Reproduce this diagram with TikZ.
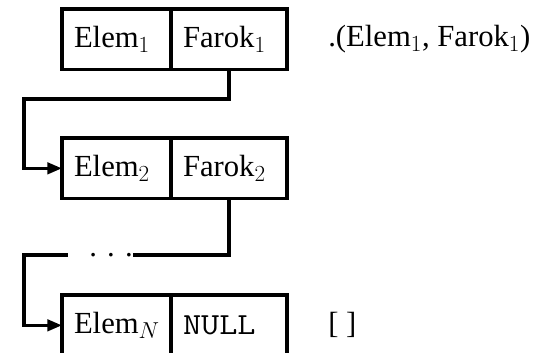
\documentclass[tikz,border=0pt]{standalone}
\usepackage{fontspec}
\setmainfont{Liberation Serif}
\usepackage{graphicx}
\usetikzlibrary{positioning, arrows.meta}

\newcommand{\nullptr}{\scalebox{1.15}[1]{\texttt{NULL}}}

\tikzset{
  elembox/.style={draw, line width=2.5pt, outer sep=0pt, inner xsep=9pt, inner ysep=0pt,
    minimum height=45.5pt, text width=63.75pt, align=left, anchor=north west},
  farokbox/.style={elembox, text width=69pt, anchor=west},
  wire/.style={line width=2.5pt},
  link/.style={wire, -{Triangle[length=11pt,width=8.5pt]}},
}

\begin{document}
\begin{tikzpicture}[x=0.75pt,y=0.75pt,yscale=-1,xscale=1,font=\fontsize{23}{28}\selectfont]
\clip (0,0) rectangle (553,353); %diagram is 553 wide and 353 high

% Text Node
\node (elemA) [elembox] at (62,9) {Elem$_1$};
\node (farokA) [farokbox, right=0pt of elemA] {Farok$_1$};
\node (pairA) [inner sep=0pt, right=30.75pt of farokA] {.(Elem$_1$, Farok$_1$)};
% Text Node
\node (elemB) [elembox] at (62,138) {Elem$_2$};
\node (farokB) [farokbox, right=0pt of elemB] {Farok$_2$};
% Text Node
\node (elemN) [elembox] at (62,295) {Elem$_N$};
\node (farokN) [farokbox, right=0pt of elemN] {\nullptr};
\node (nilN) [inner sep=0pt, right=30.75pt of farokN] {[ ]};
% Text Node
\node (dots) [inner sep=0pt, anchor=east] at (133,255) {\hspace{16pt}. . .};

\coordinate (bendA) at (24,99);
\coordinate (bendB) at (24,255);

%Straight Lines
\draw [link] (farokA.south) |- (bendA) |- (elemB.west);
%Straight Lines
\draw [wire] (farokB.south) |- (dots.east);
\draw [link] (dots.west) -- (bendB) |- (elemN.west);

\end{tikzpicture}
\end{document}
